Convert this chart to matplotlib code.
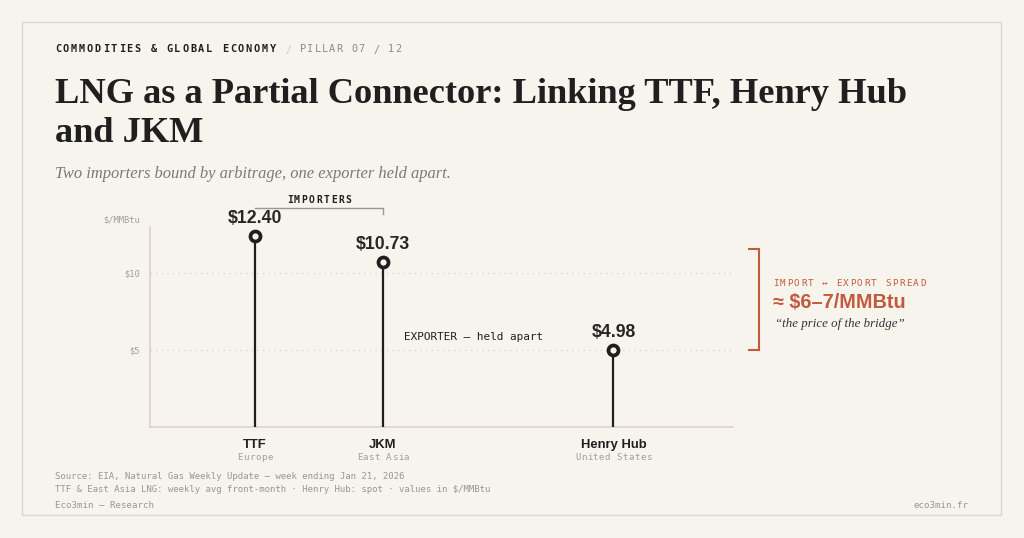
import matplotlib
matplotlib.use("Agg")
import matplotlib.pyplot as plt
import matplotlib.transforms as mtransforms
from matplotlib.patches import Rectangle

# data
hubs = ["TTF", "JKM", "Henry Hub"]
regions = ["Europe", "East Asia", "United States"]
prices = [12.40, 10.73, 4.98]
y_ticks = [5, 10]
y_tick_labels = ["$5", "$10"]

# layout (pixel grid of the 1024x538 canvas)
W, H = 1024, 538
x_pos = [0, 1, 2.8]
BG = "#f7f4ee"
DARK = "#1f1f1f"
GRAY = "#8f8b84"
ORANGE = "#c25a3c"
MONO = "DejaVu Sans Mono"
SERIF = "Liberation Serif"
SANS = "Liberation Sans"


def fx(px):
    return px / W


def fy(py):
    return 1 - py / H


fig = plt.figure(figsize=(W / 100, H / 100), dpi=100, facecolor=BG)

# card frame
fig.patches.append(Rectangle((fx(22), fy(515)), fx(1001) - fx(22), fy(22) - fy(515),
                             transform=fig.transFigure, fill=False,
                             edgecolor="#dcd7cd", lw=1))


def spaced(x, y, s, step, size, trans=None, ha="left", **kw):
    """monospace text with extra letter spacing, one glyph at a time"""
    trans = trans or fig.transFigure
    cw = 0.602 * size * 100 / 72
    start = cw / 2 if ha == "left" else -(len(s) - 1) * step / 2
    for i, ch in enumerate(s):
        t = mtransforms.offset_copy(trans, fig=fig, x=start + i * step, y=0, units="dots")
        fig.text(x, y, ch, transform=t, ha="center", va="baseline",
                 fontsize=size, family=MONO, **kw)


# header
spaced(fx(55), fy(52.5), "COMMODITIES & GLOBAL ECONOMY", 7.95, 7.4,
       color=DARK, fontweight="bold")
fig.text(fx(285), fy(52.5), "/", fontsize=7.4, family=MONO, color="#cfcac1", va="baseline")
spaced(fx(300), fy(52.5), "PILLAR 07 / 12", 7.3, 7.4, color=GRAY)

# title + subtitle
fig.text(fx(55), fy(103), "LNG as a Partial Connector: Linking TTF, Henry Hub",
         fontsize=26.2, family=SERIF, fontweight="bold", color=DARK, va="baseline")
fig.text(fx(55), fy(142), "and JKM",
         fontsize=26.2, family=SERIF, fontweight="bold", color=DARK, va="baseline")
fig.text(fx(55), fy(177.5), "Two importers bound by arbitrage, one exporter held apart.",
         fontsize=11.9, family=SERIF, style="italic", color="#7c7872", va="baseline")

# chart
ax = fig.add_axes([fx(150), fy(427), fx(733) - fx(150), fy(227) - fy(427)])
ax.set_facecolor("none")
ax.set_xlim(-105 / 128, 478 / 128)
ax.set_ylim(0, 13)

ax.vlines(x_pos, 0, prices, color=DARK, lw=1.6, zorder=3)
ax.plot(x_pos, prices, "o", ms=7.2, mfc=BG, mec=DARK, mew=2.7, zorder=4, clip_on=False)
for x, p in zip(x_pos, prices):
    ax.annotate(f"${p:.2f}", (x, p), xytext=(0, 9.4), textcoords="offset points",
                ha="center", va="baseline", fontsize=12.7, fontweight="bold",
                family=SANS, color="#262626")

ax.set_yticks(y_ticks, y_tick_labels)
ax.set_xticks([])
ax.tick_params(axis="y", length=0, pad=7.2, labelsize=6.3, labelcolor="#a29e97",
               labelfontfamily=MONO)
ax.yaxis.grid(True, linestyle=(0, (1, 3.5)), color="#d9d4ca", lw=0.9)
ax.set_axisbelow(True)
for side in ["top", "right"]:
    ax.spines[side].set_visible(False)
for side in ["left", "bottom"]:
    ax.spines[side].set_color("#d6d1c8")
    ax.spines[side].set_linewidth(1.1)

fig.text(fx(140), fy(222), "$/MMBtu", ha="right", va="baseline", fontsize=6.3,
         family=MONO, color="#a29e97")

# category labels
xd_yf = mtransforms.blended_transform_factory(ax.transData, fig.transFigure)
for x, hub, reg in zip(x_pos, hubs, regions):
    ax.text(x, fy(448), hub, transform=xd_yf, ha="center", va="baseline",
            fontsize=9.4, fontweight="bold", family=SANS, color=DARK)
    spaced(x, fy(460), reg, 5.9, 6.6, trans=xd_yf, ha="center", color="#a29e97")

# importers bracket
ax.plot([x_pos[0], x_pos[1], x_pos[1]], [fy(208), fy(208), fy(214)], transform=xd_yf,
        color="#9c978f", lw=1, clip_on=False)
spaced((x_pos[0] + x_pos[1]) / 2, fy(203), "IMPORTERS", 7.35, 7.0, trans=xd_yf,
       ha="center", color=DARK, fontweight="bold")

fig.text(fx(404), fy(340.5), "EXPORTER \u2014 held apart", fontsize=7.9, family=MONO,
         color=DARK, va="baseline")

# spread bracket
imp_mean = (prices[0] + prices[1]) / 2
xf_yd = mtransforms.blended_transform_factory(fig.transFigure, ax.transData)
ax.plot([fx(749), fx(759), fx(759), fx(749)], [imp_mean, imp_mean, prices[2], prices[2]],
        transform=xf_yd, color=ORANGE, lw=1.5, clip_on=False, solid_joinstyle="miter")
spaced(fx(773), fy(286), "IMPORT \u2194 EXPORT SPREAD", 7.0, 6.7, color=ORANGE)
fig.text(fx(773), fy(308), "\u2248 $6\u20137/MMBtu", fontsize=14.3, fontweight="bold",
         family=SANS, color=ORANGE, va="baseline")
fig.text(fx(775), fy(327), "\u201cthe price of the bridge\u201d", fontsize=9.3,
         family=SERIF, style="italic", color="#333333", va="baseline")

# footer
fig.text(fx(55), fy(479), "Source: EIA, Natural Gas Weekly Update \u2014 week ending Jan 21, 2026",
         fontsize=6.5, family=MONO, color="#9a968f", va="baseline")
fig.text(fx(55), fy(492),
         "TTF & East Asia LNG: weekly avg front-month \u00b7 Henry Hub: spot \u00b7 values in $/MMBtu",
         fontsize=6.5, family=MONO, color="#9a968f", va="baseline")
fig.text(fx(55), fy(508), "Eco3min \u2014 Research", fontsize=6.6, family=MONO,
         color="#9a968f", va="baseline")
fig.text(fx(969), fy(508), "eco3min.fr", fontsize=6.6, family=MONO, color="#9a968f",
         va="baseline", ha="right")

fig.savefig("out.png", dpi=100, facecolor=BG)
